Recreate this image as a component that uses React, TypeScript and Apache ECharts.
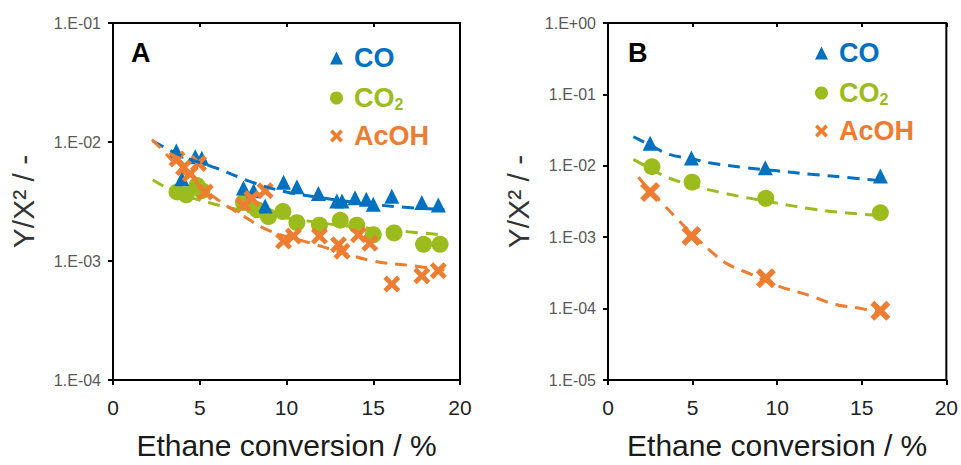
import React, { useEffect, useRef } from "react";
import * as echarts from "echarts";

// ---- Panel A data (Ethane conversion %, Y/X^2) ----
const coA: [number, number][] = [
  [3.65, 8.4e-3], [3.97, 4.9e-3], [4.74, 7.5e-3], [5.12, 7.3e-3], [7.52, 4.1e-3],
  [8.1, 3.9e-3], [8.77, 2.9e-3], [9.83, 4.6e-3], [10.6, 4.2e-3], [11.84, 3.7e-3],
  [12.9, 3.2e-3], [13.2, 3.2e-3], [13.95, 3.4e-3], [14.6, 3.3e-3], [15.0, 3.0e-3],
  [16.07, 3.5e-3], [17.8, 3.1e-3], [18.75, 2.95e-3],
];
const co2A: [number, number][] = [
  [3.69, 3.8e-3], [4.22, 3.6e-3], [4.84, 4.3e-3], [5.12, 3.9e-3], [7.52, 3.1e-3],
  [8.3, 2.7e-3], [8.96, 2.36e-3], [9.79, 2.6e-3], [10.6, 2.1e-3], [11.9, 2.0e-3],
  [13.1, 2.2e-3], [14.05, 2.0e-3], [15.0, 1.66e-3], [16.2, 1.72e-3], [17.9, 1.38e-3],
  [18.85, 1.38e-3],
];
const acohA: [number, number][] = [
  [3.69, 7.2e-3], [4.07, 6.1e-3], [4.45, 5.4e-3], [4.93, 6.6e-3], [5.32, 3.8e-3],
  [7.52, 2.95e-3], [8.0, 3.35e-3], [8.77, 3.9e-3], [9.83, 1.47e-3], [10.4, 1.62e-3],
  [11.9, 1.62e-3], [13.0, 1.37e-3], [13.2, 1.21e-3], [14.15, 1.66e-3], [14.8, 1.41e-3],
  [16.07, 6.4e-4], [17.8, 7.5e-4], [18.75, 8.3e-4],
];
const coTrendA: [number, number][] = [
  [2.3, 1.02e-2], [4, 7.6e-3], [6, 6.0e-3], [8, 4.6e-3], [10, 3.8e-3],
  [12, 3.4e-3], [14, 3.1e-3], [16.5, 2.85e-3], [19.1, 2.7e-3],
];
const co2TrendA: [number, number][] = [
  [2.3, 4.8e-3], [3, 4.2e-3], [4, 3.6e-3], [5.5, 3.1e-3], [7, 2.75e-3], [9, 2.42e-3],
  [11, 2.19e-3], [13, 2.0e-3], [15, 1.87e-3], [17, 1.76e-3], [19, 1.66e-3],
];
const acohTrendA: [number, number][] = [
  [2.25, 1.05e-2], [3, 8.1e-3], [4, 5.7e-3], [5, 4.3e-3], [6, 3.3e-3], [7.3, 2.5e-3],
  [9, 1.8e-3], [11.5, 1.4e-3], [13, 1.2e-3], [15, 1.0e-3], [17.3, 9.1e-4], [19.1, 8.4e-4],
];

// ---- Panel B data ----
const coB: [number, number][] = [[2.49, 2.07e-2], [4.93, 1.29e-2], [9.3, 9.4e-3], [16.1, 7.2e-3]];
const co2B: [number, number][] = [[2.6, 9.7e-3], [4.97, 5.9e-3], [9.33, 3.5e-3], [16.1, 2.2e-3]];
const acohB: [number, number][] = [[2.49, 4.3e-3], [4.93, 1.04e-3], [9.33, 2.66e-4], [16.1, 9.3e-5]];
const coTrendB: [number, number][] = [
  [1.5, 2.55e-2], [2.5, 1.95e-2], [3.6, 1.45e-2], [5, 1.25e-2], [6, 1.1e-2], [8, 9.5e-3],
  [10, 8.5e-3], [12, 7.6e-3], [14, 6.9e-3], [15.8, 6.3e-3],
];
const co2TrendB: [number, number][] = [
  [1.5, 1.23e-2], [2.6, 8.9e-3], [3.5, 6.9e-3], [5, 5.3e-3], [7, 4.07e-3], [10, 3.0e-3],
  [12, 2.5e-3], [14, 2.2e-3], [16.2, 2.0e-3],
];
const acohTrendB: [number, number][] = [
  [1.8, 6.9e-3], [2.5, 4.4e-3], [3.2, 3.0e-3], [4, 1.9e-3], [5, 1.1e-3], [6, 6.6e-4],
  [7, 4.3e-4], [8.5, 3.0e-4], [10, 2.1e-4], [12, 1.5e-4], [13.4, 1.15e-4], [15, 1.0e-4],
  [16.8, 7.9e-5],
];

const seriesNames = ["CO", "CO2", "AcOH"];
const panelLabels = ["A", "B"];
const xTitle = "Ethane conversion / %";
const yTitle = "Y/X\u00B2 / -";

const BLUE = "#0070C0";
const GREEN = "#9CBB1C";
const ORANGE = "#ED7D31";
const FONT = "Liberation Sans, Arial, sans-serif";
const CROSS = "path://M2,0L5,3L8,0L10,2L7,5L10,8L8,10L5,7L2,10L0,8L3,5L0,2Z";

function fmtLog(v: number): string {
  const e = Math.round(Math.log10(v));
  return "1.E" + (e < 0 ? "-" : "+") + String(Math.abs(e)).padStart(2, "0");
}

export default function App() {
  const ref = useRef<HTMLDivElement>(null);
  useEffect(() => {
    if (!ref.current) return;
    const chart = echarts.init(ref.current, null, { renderer: "svg" });
    const grids = [
      { left: 113, top: 23, width: 347, height: 364 },
      { left: 608, top: 23, width: 340, height: 364 },
    ];
    const yRanges = [
      [1e-4, 1e-1],
      [1e-5, 1],
    ];
    const xAxes: any[] = [];
    const yAxes: any[] = [];
    grids.forEach((g, i) => {
      xAxes.push({
        type: "value", gridIndex: i, min: 0, max: 20, interval: 5,
        axisLine: { show: true, lineStyle: { color: "#000", width: 2 } },
        axisTick: { show: true, inside: false, length: 5, lineStyle: { color: "#000", width: 2 } },
        axisLabel: { fontSize: 21, color: "#222", fontFamily: FONT, margin: 17 },
        splitLine: { show: false },
        name: xTitle, nameLocation: "middle", nameGap: 50,
        nameTextStyle: { fontSize: 30, color: "#1a1a1a", fontFamily: FONT },
      });
      xAxes.push({
        type: "value", gridIndex: i, min: 0, max: 20, interval: 5,
        axisLine: { show: false },
        axisTick: { show: true, inside: true, length: 4, lineStyle: { color: "#000", width: 2 } },
        axisLabel: { show: false }, splitLine: { show: false },
      });
      yAxes.push({
        type: "log", logBase: 10, gridIndex: i, min: yRanges[i][0], max: yRanges[i][1], interval: 1,
        axisLine: { show: true, lineStyle: { color: "#000", width: 2 } },
        axisTick: { show: true, inside: false, length: 5, lineStyle: { color: "#000", width: 2 } },
        axisLabel: { fontSize: 16, color: "#595959", fontFamily: FONT, margin: 12, formatter: fmtLog },
        minorTick: { show: false },
        splitLine: { show: false },
        name: yTitle, nameLocation: "middle", nameGap: 75, nameRotate: 90,
        nameTextStyle: { fontSize: 30, color: "#333", fontFamily: FONT },
      });
      yAxes.push({
        type: "log", logBase: 10, gridIndex: i, min: yRanges[i][0], max: yRanges[i][1], interval: 1,
        axisLine: { show: false },
        axisTick: { show: true, inside: true, length: 4, lineStyle: { color: "#000", width: 2 } },
        axisLabel: { show: false }, splitLine: { show: false },
      });
    });

    const scatter = (name: string, data: any, gi: number, symbol: string, size: number, color: string) => ({
      type: "scatter", name, data, xAxisIndex: gi * 2, yAxisIndex: gi * 2,
      symbol, symbolSize: size, itemStyle: { color, opacity: 1 }, z: 2,
    });
    const trend = (data: any, gi: number, color: string) => ({
      type: "line", data, xAxisIndex: gi * 2, yAxisIndex: gi * 2, smooth: 0.4,
      showSymbol: false, symbol: "none", silent: true,
      lineStyle: { color, width: 3, type: [12, 8] }, z: 3,
    });

    const legendData = [
      { name: seriesNames[0], icon: "triangle", textStyle: { color: BLUE } },
      { name: seriesNames[1], icon: "circle", textStyle: { color: GREEN } },
      { name: seriesNames[2], icon: CROSS, textStyle: { color: ORANGE } },
    ];
    const legendCommon = {
      orient: "vertical", itemWidth: 13, itemHeight: 13, itemGap: 10, padding: 0,
      selectedMode: false,
      textStyle: {
        fontSize: 27, fontWeight: "bold", fontFamily: FONT, lineHeight: 28, padding: [0, 0, 0, 6],
        rich: { sub: { fontSize: 16, fontWeight: "bold", fontFamily: FONT, color: GREEN, verticalAlign: "bottom", lineHeight: 14, padding: [14, 0, 0, 0] } },
      },
      formatter: (n: string) => (n === "CO2" ? "CO{sub|2}" : n),
      data: legendData,
    };

    chart.setOption({
      animation: false,
      backgroundColor: "#fff",
      title: [
        { text: panelLabels[0], left: 131, top: 39, padding: 0, textStyle: { fontSize: 27, fontWeight: "bold", color: "#000", fontFamily: FONT } },
        { text: panelLabels[1], left: 628, top: 39, padding: 0, textStyle: { fontSize: 27, fontWeight: "bold", color: "#000", fontFamily: FONT } },
      ],
      legend: [
        { ...legendCommon, left: 330, top: 44 },
        { ...legendCommon, left: 815, top: 39 },
      ],
      grid: grids.map((g) => ({ ...g, show: true, borderColor: "#000", borderWidth: 2, backgroundColor: "transparent", containLabel: false })),
      xAxis: xAxes,
      yAxis: yAxes,
      series: [
        scatter(seriesNames[1], co2A, 0, "circle", 17, GREEN),
        scatter(seriesNames[0], coA, 0, "triangle", 15, BLUE),
        scatter(seriesNames[2], acohA, 0, CROSS, 17, ORANGE),
        trend(coTrendA, 0, BLUE),
        trend(co2TrendA, 0, GREEN),
        trend(acohTrendA, 0, ORANGE),
        scatter(seriesNames[0], coB, 1, "triangle", 15, BLUE),
        scatter(seriesNames[1], co2B, 1, "circle", 17, GREEN),
        scatter(seriesNames[2], acohB, 1, CROSS, 20, ORANGE),
        trend(coTrendB, 1, BLUE),
        trend(co2TrendB, 1, GREEN),
        trend(acohTrendB, 1, ORANGE),
      ],
    });
    return () => chart.dispose();
  }, []);
  return <div ref={ref} style={{ position: "fixed", left: 0, top: 0, width: 961, height: 465 }} />;
}
